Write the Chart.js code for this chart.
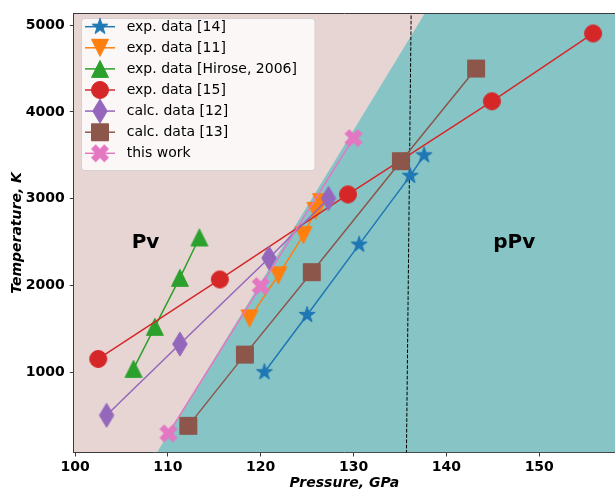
<!DOCTYPE html>
<html><head><meta charset="utf-8">
<script src="https://cdn.jsdelivr.net/npm/chart.js@4"></script>
<style>html,body{margin:0;padding:0;background:#fff;overflow:hidden}</style>
</head><body>
<canvas id="c" width="615" height="490" style="display:block;width:615px;height:490px"></canvas>
<script>
// ---------- data ----------
const seriesLabels = ['exp. data [14]','exp. data [11]','exp. data [Hirose, 2006]','exp. data [15]','calc. data [12]','calc. data [13]','this work'];
const exp14P = [120.4, 125.0, 130.6, 136.1, 137.6];
const exp14T = [1000, 1660, 2470, 3263, 3500];
const exp11P = [118.8, 121.9, 124.6, 125.9, 126.5];
const exp11T = [1620, 2118, 2580, 2860, 2960];
const hiroseP = [106.3, 108.6, 111.3, 113.4];
const hiroseT = [1039, 1523, 2088, 2553];
const exp15P = [102.5, 115.6, 129.4, 144.9, 155.8];
const exp15T = [1153, 2069, 3049, 4122, 4904];
const calc12P = [103.4, 111.3, 120.9, 127.3];
const calc12T = [504, 1325, 2317, 3003];
const calc13P = [112.2, 118.3, 125.5, 135.1, 143.2];
const calc13T = [382, 1203, 2153, 3432, 4500];
const thisWorkP = [110.06, 120.0, 130.0];
const thisWorkT = [295, 1993, 3698];
// phase boundary (Pv / pPv) and dashed reference line
const boundaryP = [108.4, 138.04, 170];
const boundaryT = [0, 5200, 5200];
const dashP = [135.69, 136.21];
const dashT = [0, 5200];
// region labels
const regionLabels = ['Pv', 'pPv'];
const regionP = [106.1, 145.05];
const regionT = [2430, 2430];
// axes
const xTicks = [100, 110, 120, 130, 140, 150];
const yTicks = [1000, 2000, 3000, 4000, 5000];
const xRange = [99.87, 158.16];
const yRange = [75, 5135];

// ---------- styles ----------
const seriesColors = ['#1f77b4','#ff7f0e','#2ca02c','#d62728','#9467bd','#8c564b','#e377c2'];
const seriesMarkers = ['star','triDown','triUp','circle','thinDiamond','square','xFilled'];
const seriesP = [exp14P, exp11P, hiroseP, exp15P, calc12P, calc13P, thisWorkP];
const seriesT = [exp14T, exp11T, hiroseT, exp15T, calc12T, calc13T, thisWorkT];
const PINK = '#e7d5d3', TEAL = '#87c4c6';
const MS = 17;
const FONT = "'DejaVu Sans', sans-serif";

function markerPath(g, shape, s) {
  const h = s / 2;
  g.beginPath();
  if (shape === 'circle') g.arc(0, 0, h, 0, Math.PI * 2);
  else if (shape === 'square') g.rect(-h, -h, s, s);
  else if (shape === 'triUp') { g.moveTo(0, -h); g.lineTo(h, h); g.lineTo(-h, h); g.closePath(); }
  else if (shape === 'triDown') { g.moveTo(0, h); g.lineTo(-h, -h); g.lineTo(h, -h); g.closePath(); }
  else if (shape === 'thinDiamond') {
    const w = h * 0.6 * Math.SQRT2, v = h * Math.SQRT2;
    g.moveTo(0, -v); g.lineTo(w, 0); g.lineTo(0, v); g.lineTo(-w, 0); g.closePath();
  } else if (shape === 'star') {
    const R = h, r = h * 0.381966;
    for (let i = 0; i < 10; i++) {
      const a = -Math.PI / 2 + i * Math.PI / 5, rr = (i % 2) ? r : R;
      const px = rr * Math.cos(a), py = rr * Math.sin(a);
      if (i === 0) g.moveTo(px, py); else g.lineTo(px, py);
    }
    g.closePath();
  } else if (shape === 'xFilled') {
    const k = s / 4;
    const pts = [[-1,-2],[0,-1],[1,-2],[2,-1],[1,0],[2,1],[1,2],[0,1],[-1,2],[-2,1],[-1,0],[-2,-1]];
    pts.forEach((p, i) => { if (i === 0) g.moveTo(p[0]*k, p[1]*k); else g.lineTo(p[0]*k, p[1]*k); });
    g.closePath();
  }
}
function makeMarker(shape, color) {
  const c = document.createElement('canvas');
  c.width = 32; c.height = 32;
  const g = c.getContext('2d');
  g.translate(16, 16);
  markerPath(g, shape, MS);
  g.fillStyle = color; g.fill();
  g.strokeStyle = color; g.lineWidth = 1; g.lineJoin = 'miter'; g.stroke();
  return c;
}
const markerImgs = seriesMarkers.map((m, i) => makeMarker(m, seriesColors[i]));

const toXY = (P, T) => P.map((p, i) => ({ x: p, y: T[i] }));

const datasets = [];
datasets.push({
  label: 'pPv region', data: toXY(boundaryP, boundaryT),
  borderColor: 'rgba(0,0,0,0)', borderWidth: 0, pointRadius: 0,
  fill: 'start', backgroundColor: TEAL, order: 100, tension: 0
});
datasets.push({
  label: 'dash', data: toXY(dashP, dashT),
  borderColor: '#000', borderWidth: 1, borderDash: [3.7, 1.6], pointRadius: 0,
  fill: false, order: 50, tension: 0
});
seriesLabels.forEach((lab, i) => {
  datasets.push({
    label: lab, data: toXY(seriesP[i], seriesT[i]),
    borderColor: seriesColors[i], backgroundColor: seriesColors[i], borderWidth: 1.5,
    pointStyle: markerImgs[i], pointRadius: 9, fill: false, tension: 0,
    order: seriesLabels.length - 1 - i
  });
});

const mplPlugin = {
  id: 'mpl',
  beforeDraw(chart) {
    const { ctx, chartArea: a } = chart;
    ctx.save();
    ctx.fillStyle = '#fff';
    ctx.fillRect(0, 0, chart.width, chart.height);
    ctx.fillStyle = PINK;
    ctx.fillRect(a.left, a.top, a.right - a.left, a.bottom - a.top);
    ctx.restore();
  },
  afterDatasetsDraw(chart) {
    const { ctx, chartArea: a, scales } = chart;
    ctx.save();
    // region labels
    ctx.fillStyle = '#000';
    ctx.font = 'bold 20px ' + FONT;
    ctx.textAlign = 'left';
    ctx.textBaseline = 'alphabetic';
    regionLabels.forEach((t, i) => {
      ctx.fillText(t, scales.x.getPixelForValue(regionP[i]), scales.y.getPixelForValue(regionT[i]));
    });
    // top spine
    ctx.strokeStyle = '#3a3a3a'; ctx.lineWidth = 1;
    ctx.beginPath(); ctx.moveTo(a.left, Math.round(a.top) + 0.5); ctx.lineTo(a.right, Math.round(a.top) + 0.5); ctx.stroke();
    // legend
    const bx = 81.5, by = 18.5, bw = 233.5, bh = 152, r = 3;
    ctx.beginPath();
    ctx.moveTo(bx + r, by); ctx.lineTo(bx + bw - r, by); ctx.arcTo(bx + bw, by, bx + bw, by + r, r);
    ctx.lineTo(bx + bw, by + bh - r); ctx.arcTo(bx + bw, by + bh, bx + bw - r, by + bh, r);
    ctx.lineTo(bx + r, by + bh); ctx.arcTo(bx, by + bh, bx, by + bh - r, r);
    ctx.lineTo(bx, by + r); ctx.arcTo(bx, by, bx + r, by, r); ctx.closePath();
    ctx.fillStyle = 'rgba(255,255,255,0.8)'; ctx.fill();
    ctx.strokeStyle = 'rgba(204,204,204,0.8)'; ctx.lineWidth = 1; ctx.stroke();
    ctx.font = '14px ' + FONT;
    ctx.textBaseline = 'middle';
    seriesLabels.forEach((lab, i) => {
      const y = 26.7 + i * 21.1;
      ctx.strokeStyle = seriesColors[i]; ctx.lineWidth = 1.5;
      ctx.beginPath(); ctx.moveTo(85, y); ctx.lineTo(115, y); ctx.stroke();
      ctx.drawImage(markerImgs[i], 100 - 16, y - 16);
      ctx.fillStyle = '#000';
      ctx.fillText(lab, 126.7, y + 0.5);
    });
    ctx.restore();
  }
};

const tickFont = { family: FONT, size: 14, weight: 'bold' };
const titleFont = { family: FONT, size: 14, weight: 'bold', style: 'italic' };

new Chart(document.getElementById('c'), {
  type: 'line',
  data: { datasets },
  plugins: [mplPlugin],
  options: {
    responsive: false, animation: false, events: [], devicePixelRatio: 1,
    layout: { autoPadding: false, padding: { top: 10.5, right: 0, left: 0, bottom: 0 } },
    plugins: { legend: { display: false }, tooltip: { enabled: false } },
    scales: {
      x: {
        type: 'linear', min: xRange[0], max: xRange[1],
        afterBuildTicks: s => { s.ticks = xTicks.map(v => ({ value: v })); },
        afterFit: s => { s.height = 37.5; s.paddingRight = 0; s.paddingLeft = 0; },
        grid: { drawOnChartArea: false, drawTicks: true, tickLength: 4, color: '#3a3a3a', lineWidth: 1 },
        border: { display: true, color: '#3a3a3a', width: 1 },
        ticks: { font: tickFont, color: '#000', padding: 2, maxRotation: 0, autoSkip: false, callback: v => String(v) },
        title: { display: true, text: 'Pressure, GPa', font: titleFont, color: '#000', padding: { top: 0, bottom: -2 } }
      },
      y: {
        type: 'linear', min: yRange[0], max: yRange[1],
        afterBuildTicks: s => { s.ticks = yTicks.map(v => ({ value: v })); },
        afterFit: s => { s.width = 73.8; },
        grid: { drawOnChartArea: false, drawTicks: true, tickLength: 4, color: '#3a3a3a', lineWidth: 1 },
        border: { display: true, color: '#3a3a3a', width: 1 },
        ticks: { font: tickFont, color: '#000', padding: 5, autoSkip: false, callback: v => String(v) },
        title: { display: true, text: 'Temperature, K', font: titleFont, color: '#000', padding: { top: 9, bottom: 0 } }
      }
    }
  }
});
</script>
</body></html>
